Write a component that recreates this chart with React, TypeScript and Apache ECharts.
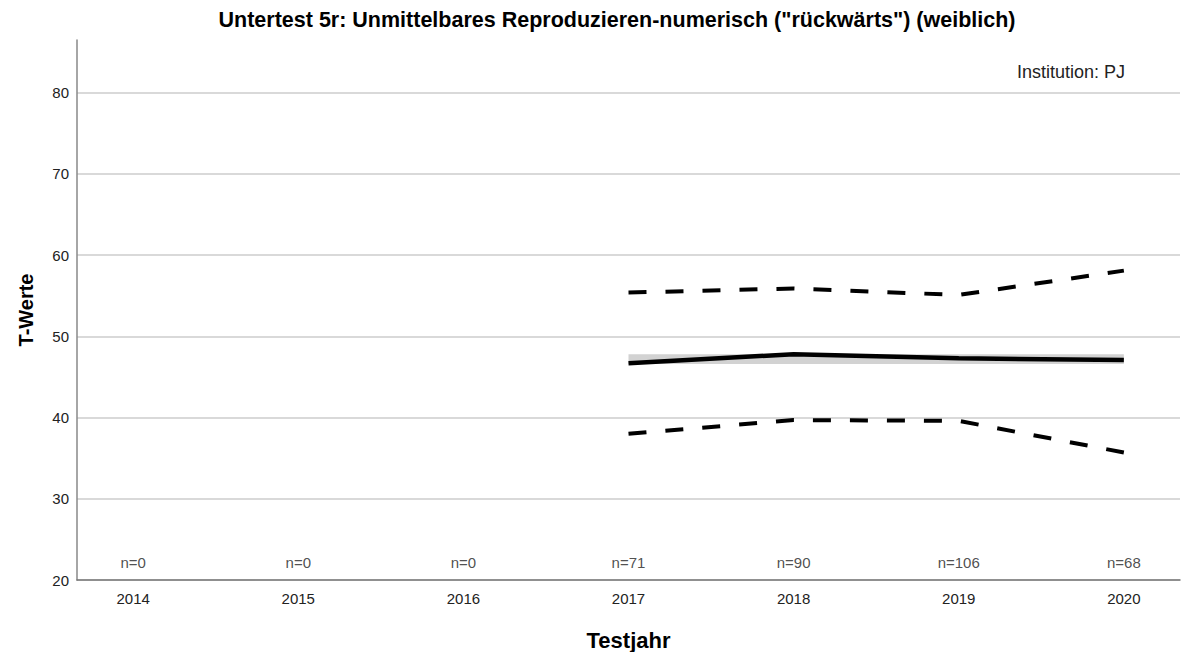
import React, { useEffect, useRef } from "react";
import * as echarts from "echarts";

const years = [2014, 2015, 2016, 2017, 2018, 2019, 2020];
const counts = [0, 0, 0, 71, 90, 106, 68];
const dataYears = [2017, 2018, 2019, 2020];
const meanValues = [46.7, 47.8, 47.3, 47.1];
const upperValues = [55.4, 55.9, 55.1, 58.1];
const lowerValues = [38.0, 39.7, 39.6, 35.7];
const bandRange = [46.6, 47.8];

const titleText = 'Untertest 5r: Unmittelbares Reproduzieren-numerisch ("rückwärts") (weiblich)';
const institutionText = "Institution: PJ";
const FONT = '"Liberation Sans", Arial, sans-serif';

export default function App() {
  const ref = useRef<HTMLDivElement>(null);
  useEffect(() => {
    if (!ref.current) return;
    const chart = echarts.init(ref.current, undefined, { renderer: "svg" });
    const nLevel = 22.1;
    const option: any = {
      animation: false,
      backgroundColor: "#ffffff",
      textStyle: { fontFamily: FONT },
      grid: { left: 77, right: 1, top: 40, bottom: 72, containLabel: false, outerBoundsMode: "none" },
      graphic: [
        {
          type: "text",
          x: 617,
          y: 20,
          style: {
            text: titleText,
            fill: "#000",
            font: `bold 21.5px ${FONT}`,
            textAlign: "center",
            textVerticalAlign: "middle",
          },
        },
        {
          type: "text",
          x: 1125,
          y: 72,
          style: {
            text: institutionText,
            fill: "#222",
            font: `18px ${FONT}`,
            textAlign: "right",
            textVerticalAlign: "middle",
          },
        },
      ],
      xAxis: {
        type: "value",
        min: 2013.66,
        max: 2020.34,
        name: "Testjahr",
        nameLocation: "middle",
        nameGap: 49,
        nameTextStyle: { fontFamily: FONT, fontWeight: "bold", fontSize: 22, color: "#000" },
        axisLine: { show: true, lineStyle: { color: "#777", width: 1.5 } },
        axisTick: { show: false },
        splitLine: { show: false },
        axisLabel: {
          customValues: years,
          formatter: (v: number) => String(Math.round(v)),
          fontSize: 15,
          color: "#222",
          margin: 11,
          fontFamily: FONT,
        },
      },
      yAxis: {
        type: "value",
        min: 20,
        max: 86.5,
        interval: 10,
        name: "T-Werte",
        nameLocation: "middle",
        nameGap: 41,
        nameTextStyle: { fontFamily: FONT, fontWeight: "bold", fontSize: 20, color: "#000" },
        axisLine: { show: true, lineStyle: { color: "#888", width: 1.5 } },
        axisTick: { show: false },
        axisLabel: {
          fontSize: 15,
          color: "#222",
          margin: 8,
          showMaxLabel: false,
          fontFamily: FONT,
        },
        splitLine: { show: true, showMaxLine: false, lineStyle: { color: "#cccccc", width: 1.5 } },
      },
      series: [
        {
          type: "line",
          name: "band",
          data: dataYears.map((y, i) => [y, meanValues[i]]),
          symbol: "none",
          lineStyle: { opacity: 0 },
          silent: true,
          z: 1,
          markArea: {
            silent: true,
            itemStyle: { color: "#d2d2d2" },
            data: [[{ xAxis: dataYears[0], yAxis: bandRange[0] }, { xAxis: dataYears[dataYears.length - 1], yAxis: bandRange[1] }]],
          },
        },
        {
          type: "line",
          name: "Mittelwert",
          data: dataYears.map((y, i) => [y, meanValues[i]]),
          symbol: "none",
          lineStyle: { color: "#000", width: 4.5 },
          z: 3,
        },
        {
          type: "line",
          name: "obere Grenze",
          data: dataYears.map((y, i) => [y, upperValues[i]]),
          symbol: "none",
          lineStyle: { color: "#000", width: 4, type: [18, 19] },
          z: 3,
        },
        {
          type: "line",
          name: "untere Grenze",
          data: dataYears.map((y, i) => [y, lowerValues[i]]),
          symbol: "none",
          lineStyle: { color: "#000", width: 4, type: [18, 19] },
          z: 3,
        },
        {
          type: "scatter",
          name: "n",
          data: years.map((y, i) => [y, nLevel, counts[i]]),
          symbolSize: 0,
          silent: true,
          label: {
            show: true,
            position: "inside",
            formatter: (p: any) => "n=" + p.value[2],
            fontSize: 15,
            color: "#222",
            fontFamily: FONT,
          },
          z: 4,
        },
      ],
    };
    chart.setOption(option);
    return () => chart.dispose();
  }, []);
  return (
    <div
      ref={ref}
      style={{ position: "absolute", left: 0, top: 0, width: 1181, height: 652 }}
    />
  );
}
